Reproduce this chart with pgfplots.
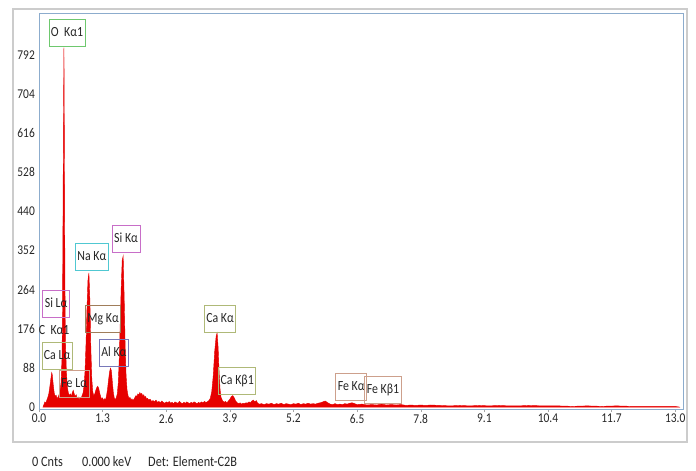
\documentclass[border=0pt]{standalone}
\usepackage{pgfplots}
\pgfplotsset{compat=1.18}
\usepackage{fontspec}
\setmainfont{Carlito}[FakeStretch=0.85]
\definecolor{specred}{RGB}{230,0,0}
\definecolor{axblue}{RGB}{140,172,205}
\definecolor{lgreen}{RGB}{110,200,110}
\definecolor{lmag}{RGB}{200,110,200}
\definecolor{lcyan}{RGB}{80,200,210}
\definecolor{lbrown}{RGB}{160,125,90}
\definecolor{lolive}{RGB}{175,185,120}
\definecolor{lblue}{RGB}{120,120,185}
\definecolor{lsalmon}{RGB}{205,160,140}
\tikzset{lab/.style={draw=#1, line width=0.8pt, inner xsep=2bp, inner ysep=7.5bp, text height=9.5bp, text depth=2.5bp, font=\fontsize{14}{16}\selectfont, text=black!85},
  plainlab/.style={inner sep=0pt, font=\fontsize{14}{16}\selectfont, text=black!85}}
\begin{document}
\begin{tikzpicture}
\begin{axis}[
  scale only axis, width=644bp, height=396bp,
  xmin=0, xmax=13.16, ymin=-4, ymax=886,
  axis line style={draw=axblue, line width=0.9pt},
  xtick={0,1.3,2.6,3.9,5.2,6.5,7.8,9.1,10.4,11.7,13.0},
  xticklabels={0.0,1.3,2.6,3.9,5.2,6.5,7.8,9.1,10.4,11.7,13.0},
  ytick={0,88,176,264,352,440,528,616,704,792},
  yticklabels={0,88,176,264,352,440,528,616,704,792},
  tick label style={font=\fontsize{13.5}{16}\selectfont, text=black!85},
  yticklabel style={inner xsep=1bp},
  xticklabel style={inner ysep=2bp},
  x tick style={draw=gray!70, thin},
  y tick style={draw=none},
  major tick length=3bp, tick align=outside,
  xtick pos=bottom, ytick pos=left,
  clip=false,
]
\addplot[draw=specred, fill=specred, line width=0.4pt] coordinates {
(0.08,0) (0.10,6) (0.12,12) (0.14,9) (0.16,16) (0.18,22) (0.20,30) (0.22,45) (0.24,62) (0.26,78) (0.27,74) (0.29,52) (0.31,33) (0.33,24) (0.35,27) (0.37,19) (0.39,23) (0.41,28) (0.43,36) (0.45,55) (0.47,110) (0.48,210) (0.49,420) (0.50,650) (0.51,808) (0.52,560) (0.53,280) (0.54,150) (0.56,80) (0.58,45) (0.60,32) (0.62,26) (0.64,30) (0.66,24) (0.68,33) (0.70,38) (0.72,30) (0.74,24) (0.76,28) (0.78,19) (0.80,23) (0.82,17) (0.84,22) (0.86,20) (0.88,26) (0.90,32) (0.92,48) (0.94,80) (0.96,140) (0.98,220) (1.00,285) (1.02,302) (1.04,240) (1.06,130) (1.08,62) (1.10,34) (1.12,26) (1.14,30) (1.16,38) (1.18,44) (1.20,47) (1.22,43) (1.24,32) (1.26,24) (1.28,18) (1.30,21) (1.32,15) (1.34,19) (1.36,17) (1.38,26) (1.40,40) (1.42,60) (1.44,78) (1.46,88) (1.48,82) (1.50,55) (1.52,32) (1.54,20) (1.56,17) (1.58,22) (1.60,30) (1.62,55) (1.64,110) (1.66,190) (1.68,270) (1.70,330) (1.72,340) (1.74,250) (1.76,140) (1.78,70) (1.80,38) (1.82,26) (1.84,20) (1.86,22) (1.88,16) (1.90,19) (1.92,15) (1.94,18) (1.96,22) (1.98,26) (2.00,24) (2.02,30) (2.04,27) (2.06,33) (2.08,29) (2.10,31) (2.12,25) (2.14,28) (2.16,22) (2.18,24) (2.20,18) (2.22,20) (2.24,16) (2.27,18) (2.30,13) (2.33,15) (2.36,12) (2.39,16) (2.42,11) (2.45,13) (2.48,10) (2.51,14) (2.54,11) (2.57,9) (2.60,12) (2.63,10) (2.66,13) (2.69,9) (2.72,11) (2.75,8) (2.78,12) (2.81,10) (2.84,9) (2.87,13) (2.90,10) (2.93,8) (2.96,11) (2.99,9) (3.02,12) (3.05,10) (3.08,8) (3.11,11) (3.14,9) (3.17,12) (3.20,10) (3.23,8) (3.26,11) (3.29,9) (3.32,12) (3.35,10) (3.38,13) (3.41,11) (3.44,12) (3.47,15) (3.50,20) (3.53,35) (3.56,70) (3.59,125) (3.62,160) (3.64,167) (3.66,135) (3.68,80) (3.70,40) (3.72,22) (3.75,15) (3.78,11) (3.81,13) (3.84,10) (3.87,14) (3.90,18) (3.93,24) (3.96,26) (3.99,21) (4.02,14) (4.05,10) (4.08,8) (4.11,10) (4.14,7) (4.17,9) (4.20,8) (4.23,10) (4.26,9) (4.29,12) (4.32,10) (4.35,14) (4.38,16) (4.41,12) (4.44,15) (4.47,9) (4.50,7) (4.55,8) (4.60,6) (4.65,8) (4.70,7) (4.75,9) (4.80,6) (4.85,8) (4.90,7) (4.95,9) (5.00,6) (5.05,8) (5.10,7) (5.15,6) (5.20,8) (5.25,7) (5.30,9) (5.35,6) (5.40,8) (5.45,7) (5.50,9) (5.55,7) (5.60,8) (5.65,7) (5.70,9) (5.75,10) (5.80,12) (5.85,14) (5.90,10) (5.95,7) (6.00,6) (6.05,8) (6.10,6) (6.15,7) (6.20,6) (6.25,8) (6.30,7) (6.35,9) (6.40,10) (6.45,8) (6.50,6) (6.60,7) (6.70,5) (6.80,6) (6.90,5) (7.00,7) (7.10,5) (7.20,6) (7.30,5) (7.40,6) (7.50,4) (7.60,5) (7.70,4) (7.80,5) (7.90,4) (8.00,5) (8.20,4) (8.40,3) (8.60,4) (8.80,3) (9.00,4) (9.20,3) (9.40,4) (9.60,3) (9.80,3) (10.00,4) (10.30,3) (10.60,3) (10.90,2) (11.20,3) (11.50,2) (11.80,3) (12.10,2) (12.40,2) (12.70,2) (13.00,2) (13.10,0)
} \closedcycle;
\node[lab=lgreen] at (axis cs:0.573,842) {O\ \ Kα1};
\node[lab=lmag] at (axis cs:1.78,378) {Si Kα};
\node[lab=lcyan] at (axis cs:1.08,338) {Na Kα};
\node[lab=lmag] at (axis cs:0.35,232) {Si Lα};
\node[plainlab] at (axis cs:0.31,173) {C\ \ Kα1};
\node[lab=lbrown] at (axis cs:1.31,198) {Mg Kα};
\node[lab=lolive] at (axis cs:0.37,115) {Ca Lα};
\node[lab=lblue] at (axis cs:1.53,122) {Al Kα};
\node[lab=lsalmon] at (axis cs:0.72,52) {Fe Lα};
\node[lab=lolive] at (axis cs:3.70,198) {Ca Kα};
\node[lab=lolive] at (axis cs:4.05,59) {Ca Kβ1};
\node[lab=lsalmon] at (axis cs:6.38,45) {Fe Kα};
\node[lab=lsalmon] at (axis cs:7.03,38) {Fe Kβ1};
\end{axis}
\draw[gray!40, line width=1.2pt] ([shift={(-26bp,-33bp)}]current axis.south west) rectangle ([shift={(4bp,4bp)}]current axis.north east);
\begin{scope}[every node/.style={font=\fontsize{14.5}{16}\selectfont, anchor=west, inner sep=0pt, text=black!85}]
\node at ([shift={(-7bp,-53bp)}]current axis.south west) {0 Cnts};
\node at ([shift={(43bp,-53bp)}]current axis.south west) {0.000 keV};
\node at ([shift={(109bp,-53bp)}]current axis.south west) {Det: Element-C2B};
\end{scope}
\pgfresetboundingbox
\useasboundingbox ([shift={(-39bp,-62bp)}]current axis.south west) rectangle ([shift={(13bp,13bp)}]current axis.north east);
\end{tikzpicture}
\end{document}
